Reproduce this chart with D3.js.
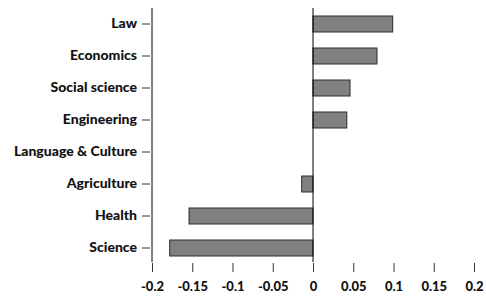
<!DOCTYPE html>
<html>
<head>
<meta charset="utf-8">
<script src="https://cdn.jsdelivr.net/npm/d3@7"></script>
<style>
  body { margin: 0; background: #fff; }
  text { font-family: Lato, "Open Sans", sans-serif; font-weight: 900; fill: #111; }
</style>
</head>
<body>
<div id="chart"></div>
<script>
// data
const categories = ["Law", "Economics", "Social science", "Engineering",
  "Language & Culture", "Agriculture", "Health", "Science"]
const values = [0.099, 0.0795, 0.046, 0.042, 0, -0.014, -0.154, -0.178]
const xTicks = [-0.2, -0.15, -0.1, -0.05, 0, 0.05, 0.1, 0.15, 0.2]

const data = categories.map((c, i) => ({ name: c, value: values[i] }))

let dimensions = {
  width: 486,
  height: 297,
  margin: { top: 8, right: 12, bottom: 35, left: 152 },
}

const wrapper = d3.select("#chart")
  .append("svg")
    .attr("width", dimensions.width)
    .attr("height", dimensions.height)

const bounds = wrapper.append("g")
  .attr("transform", `translate(${dimensions.margin.left},${dimensions.margin.top})`)

// scales
const xScale = d3.scaleLinear()
  .domain([-0.2, 0.2])
  .range([0, 322])

const yScale = d3.scaleBand()
  .domain(categories)
  .range([0, 256])
  .paddingInner(0.5)
  .paddingOuter(0.25)

// bars
bounds.selectAll("rect")
  .data(data.filter(d => d.value !== 0))
  .join("rect")
    .attr("x", d => xScale(Math.min(0, d.value)))
    .attr("y", d => yScale(d.name))
    .attr("width", d => Math.abs(xScale(d.value) - xScale(0)))
    .attr("height", yScale.bandwidth())
    .attr("fill", "#808080")
    .attr("stroke", "#2a2a2a")
    .attr("stroke-width", 1)

// zero line
bounds.append("line")
  .attr("x1", xScale(0)).attr("x2", xScale(0))
  .attr("y1", 0).attr("y2", 254)
  .attr("stroke", "#000")

// y axis
const yAxis = bounds.append("g")
  .call(d3.axisLeft(yScale).tickSize(8).tickPadding(5))
yAxis.select(".domain").remove()
yAxis.append("line")
  .attr("x1", 0).attr("x2", 0)
  .attr("y1", 0).attr("y2", 254)
  .attr("stroke", "#000")
yAxis.selectAll(".tick line").attr("stroke", "#333").attr("transform", "translate(-2,0)")
yAxis.selectAll(".tick text")
  .attr("x", -15)
  .style("font-size", "14px")

// x axis
const xAxis = bounds.append("g")
  .attr("transform", "translate(0,255)")
  .call(d3.axisBottom(xScale).tickValues(xTicks).tickSize(9).tickPadding(10)
    .tickFormat(d => String(d)))
xAxis.select(".domain").remove()
xAxis.selectAll(".tick line").attr("stroke", "#333")
xAxis.selectAll(".tick text")
  .style("font-size", "13px")
</script>
</body>
</html>
